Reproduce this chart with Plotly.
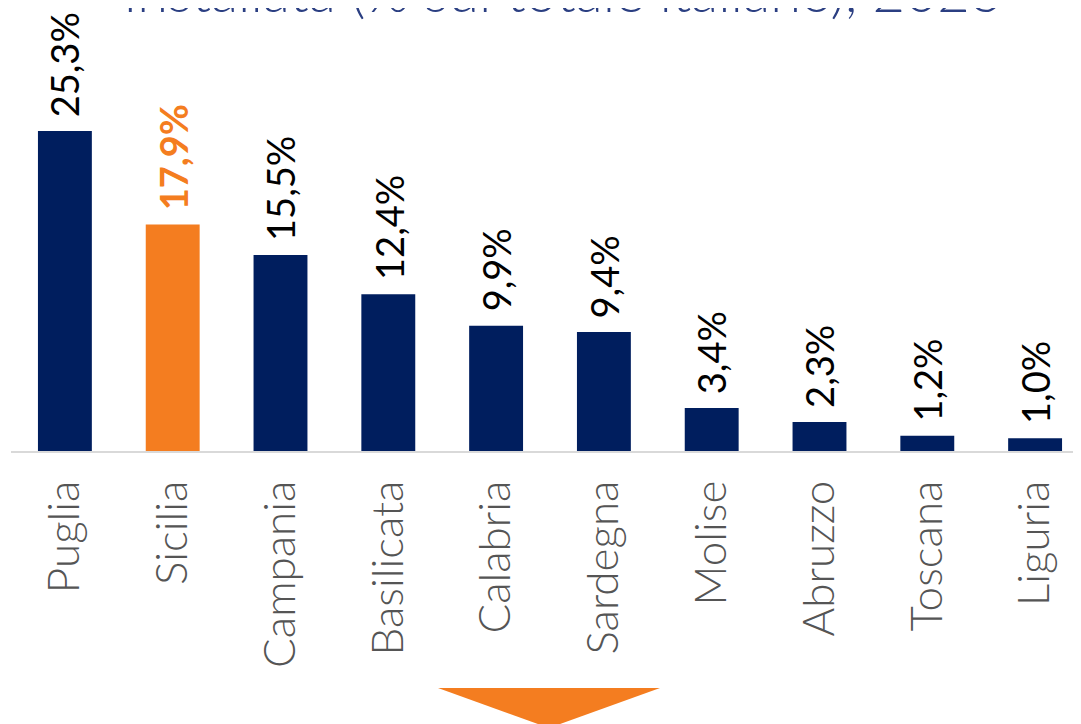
import plotly.graph_objects as go

regions = ["Puglia", "Sicilia", "Campania", "Basilicata", "Calabria",
           "Sardegna", "Molise", "Abruzzo", "Toscana", "Liguria"]
shares = [25.3, 17.9, 15.5, 12.4, 9.9, 9.4, 3.4, 2.3, 1.2, 1.0]
labels = ["25,3%", "17,9%", "15,5%", "12,4%", "9,9%", "9,4%", "3,4%", "2,3%", "1,2%", "1,0%"]
highlight = "Sicilia"
title_text = "Installata (% sul totale italiano), 2023"

NAVY = "#001E5E"
ORANGE = "#F47D20"

colors = [ORANGE if r == highlight else NAVY for r in regions]

# page body has an 8px offset; plot area spans px x 11..1089, y 40..451
ML, MT, MB = 3, 32, 281
PLOT_W = 1081 - ML
PLOT_H = 724 - MT - MB
X0, Y0 = 8 + ML, 8 + MT  # page pixel of plot-area top-left


def px_x(p):
    return (p - X0) / PLOT_W


def px_y(p):
    return (Y0 + PLOT_H - p) / PLOT_H


fig = go.Figure()
fig.add_trace(go.Bar(
    x=regions, y=shares, marker=dict(color=colors, line=dict(width=0)),
    hoverinfo="skip", showlegend=False,
))

annotations = []
for r, v, lab in zip(regions, shares, labels):
    hl = r == highlight
    annotations.append(dict(
        x=r, y=v, xref="x", yref="y", text=lab, showarrow=False,
        textangle=-90, xanchor="center", yanchor="bottom", yshift=12,
        font=dict(family="Lato", size=38, color=ORANGE if hl else "#000000",
                  weight=700 if hl else 400),
    ))
annotations.append(dict(
    x=px_x(562), xref="paper", y=px_y(26), yref="paper", text=title_text,
    showarrow=False, xanchor="center", yanchor="bottom",
    font=dict(family="Lato", size=56, color="#2B3F82", weight=300),
))

fig.update_layout(
    width=1081, height=724,
    margin=dict(l=ML, r=0, t=MT, b=MB),
    paper_bgcolor="white", plot_bgcolor="white",
    bargap=0.5,
    annotations=annotations,
    xaxis=dict(
        range=[-0.5, 9.5], showgrid=False, zeroline=False,
        showline=True, linecolor="#D9D9D9", linewidth=2,
        tickangle=-90, ticks="", ticklabelstandoff=10,
        tickfont=dict(family="Lato", size=44, color="#555555", weight=300),
    ),
    yaxis=dict(range=[0, PLOT_H / 12.65], visible=False, showgrid=False, zeroline=False),
)

# orange downward triangle at bottom centre
fig.add_shape(
    type="path", xref="paper", yref="paper",
    path=f"M {px_x(438)} {px_y(688)} L {px_x(660)} {px_y(688)} L {px_x(549)} {px_y(728)} Z",
    fillcolor=ORANGE, line=dict(width=0),
)

fig.write_html("out.html")
